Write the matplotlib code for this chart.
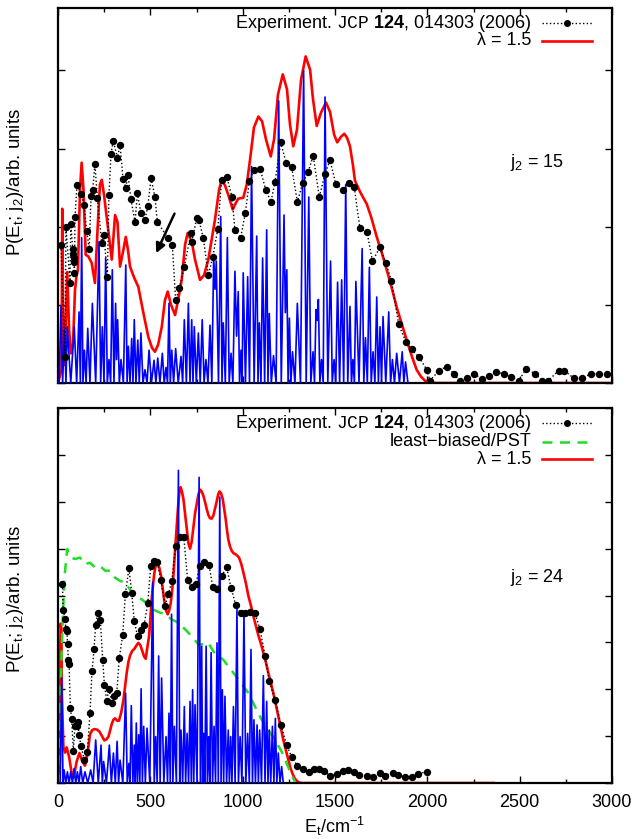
import numpy as np
import matplotlib
matplotlib.use('Agg')
import matplotlib.pyplot as plt
from matplotlib.ticker import MultipleLocator, NullFormatter

plt.rcParams['font.family'] = ['Liberation Sans', 'DejaVu Sans']
plt.rcParams['mathtext.fontset'] = 'custom'
plt.rcParams['mathtext.rm'] = 'Liberation Sans'
plt.rcParams['mathtext.it'] = 'Liberation Sans:italic'
plt.rcParams['mathtext.bf'] = 'Liberation Sans:bold'
plt.rcParams['mathtext.tt'] = 'Liberation Mono'

# ---------------- j2 = 15 (top panel) ----------------
top_exp_x = [16, 38, 43, 65, 69, 80, 82, 84, 86, 89, 92, 103, 125, 141, 155, 169, 179, 188, 200, 213,
             237, 249, 267, 276, 287, 299, 322, 336, 352, 367, 379, 395, 417, 430, 449, 471, 486, 504, 525, 538,
             597, 619, 637, 657, 684, 720, 724, 751, 764, 787, 814, 838, 865, 886, 914, 942, 958, 989, 1014, 1036,
             1062, 1095, 1125, 1153, 1175, 1206, 1235, 1265, 1296, 1325, 1355, 1382, 1415, 1446, 1473, 1504, 1543, 1576, 1604, 1635,
             1673, 1703, 1744, 1775, 1805, 1845, 1883, 1915, 1955, 1997, 2014, 2064, 2105, 2144, 2177, 2213, 2253, 2294, 2334, 2372,
             2413, 2453, 2495, 2535, 2583, 2623, 2655, 2711, 2742, 2793, 2839, 2885, 2928, 2971]
top_exp_y = [1.76, 0.33, 2.00, 1.28, 2.04, 1.71, 1.65, 1.60, 1.55, 1.41, 2.13, 2.54, 2.42, 2.28, 1.95, 1.72, 2.39, 2.47, 2.80, 2.37,
             1.79, 1.89, 1.36, 2.41, 2.93, 3.10, 2.88, 3.05, 2.61, 2.50, 2.66, 2.35, 2.06, 2.43, 2.17, 2.09, 2.26, 2.62, 2.38, 2.06,
             1.85, 1.77, 1.06, 1.21, 1.49, 1.92, 1.80, 2.11, 2.08, 1.85, 1.38, 1.61, 1.97, 2.60, 2.64, 2.38, 1.96, 1.86, 2.17, 2.58,
             2.73, 2.74, 2.47, 2.32, 2.57, 3.08, 2.82, 2.77, 2.32, 2.56, 2.70, 2.91, 2.38, 2.68, 2.85, 2.55, 2.47, 2.56, 2.51, 1.98,
             1.93, 1.56, 1.74, 1.54, 1.31, 0.75, 0.53, 0.43, 0.33, 0.17, 0.03, 0.16, 0.21, 0.12, 0.02, 0.06, 0.12, 0.05, 0.09, 0.14,
             0.12, 0.08, 0.03, 0.18, 0.12, 0.03, 0.03, 0.16, 0.16, 0.06, 0.06, 0.12, 0.11, 0.11]

top_red_x = [0, 19, 23, 29, 35, 50, 60, 70, 81, 92, 100, 108, 119, 128, 138, 150, 164, 182, 200, 214,
             227, 237, 249, 272, 291, 309, 322, 336, 352, 367, 379, 390, 412, 435, 462, 489, 509, 525, 542, 562,
             579, 594, 612, 634, 650, 670, 688, 702, 724, 742, 769, 791, 814, 850, 872, 886, 904, 922, 946, 964,
             976, 1003, 1022, 1040, 1061, 1085, 1105, 1126, 1152, 1170, 1191, 1217, 1240, 1256, 1274, 1294, 1316, 1341, 1365, 1381,
             1401, 1424, 1451, 1473, 1495, 1512, 1532, 1550, 1565, 1581, 1597, 1608, 1635, 1672, 1695, 1726, 1753, 1780, 1807, 1834,
             1861, 1888, 1915, 1942, 1966, 1987, 2014, 2041, 3000]
top_red_y = [0.0, 0.17, 2.23, 0.42, 0.23, 1.42, 0.68, 0.38, 0.49, 1.19, 1.37, 1.45, 2.47, 2.82, 2.47, 1.64, 1.62, 1.54, 1.28, 1.96,
             2.54, 2.60, 2.41, 1.96, 1.58, 2.15, 2.06, 1.49, 1.68, 1.87, 1.70, 1.49, 1.35, 1.23, 0.90, 0.59, 0.45, 0.40, 0.49, 0.72,
             1.06, 1.17, 1.00, 0.87, 1.06, 1.32, 1.77, 1.92, 1.81, 1.58, 1.32, 1.38, 1.58, 2.09, 2.47, 2.60, 2.53, 2.41, 2.22, 2.31,
             2.36, 2.37, 2.54, 2.86, 3.27, 3.41, 3.35, 3.12, 2.90, 3.12, 3.69, 3.95, 3.76, 3.31, 3.03, 3.24, 3.88, 4.18, 4.01, 3.63,
             3.29, 3.46, 3.59, 3.47, 3.18, 3.08, 3.15, 3.19, 3.14, 3.03, 2.79, 2.59, 2.45, 2.29, 2.13, 1.87, 1.67, 1.45, 1.22, 0.97,
             0.76, 0.55, 0.35, 0.17, 0.08, 0.03, 0.01, 0.0, 0.0]

top_blue_peak_x = [16, 35, 50, 88, 114, 128, 143, 161, 186, 222, 240, 258, 276, 294, 312, 323, 341, 367, 381, 399,
                   413, 432, 449, 471, 493, 520, 540, 565, 585, 601, 616, 637, 666, 684, 706, 724, 738, 760, 781, 801,
                   823, 843, 857, 881, 895, 917, 937, 958, 976, 991, 1003, 1027, 1048, 1076, 1090, 1108, 1130, 1144, 1167, 1195,
                   1224, 1239, 1253, 1270, 1296, 1330, 1358, 1381, 1397, 1410, 1427, 1446, 1476, 1495, 1514, 1536, 1558, 1581, 1597, 1613,
                   1647, 1665, 1686, 1706, 1726, 1744, 1760, 1791, 1811, 1834, 1864, 1882]
top_blue_peak_y = [0.98, 0.68, 0.72, 0.72, 0.91, 1.86, 0.42, 0.70, 1.02, 1.81, 0.72, 1.60, 0.30, 1.45, 1.02, 0.81, 0.30, 1.51, 0.47, 0.57,
                   0.81, 0.55, 0.64, 0.17, 0.42, 0.29, 0.32, 0.38, 0.20, 1.02, 0.42, 0.44, 0.34, 0.81, 1.02, 0.81, 0.72, 0.64, 0.81, 0.30,
                   0.74, 1.62, 1.56, 2.13, 0.77, 1.86, 0.38, 1.43, 1.17, 0.42, 1.41, 1.36, 2.77, 1.88, 0.77, 1.60, 1.96, 0.89, 0.35, 3.61,
                   2.15, 1.45, 0.83, 0.40, 1.02, 4.00, 2.38, 0.40, 0.94, 1.07, 0.30, 3.66, 1.56, 0.30, 1.29, 1.32, 2.54, 0.98, 0.30, 1.30,
                   1.72, 0.58, 1.48, 0.40, 1.10, 0.72, 0.85, 0.91, 0.30, 0.38, 0.40, 0.27]
top_blue_dip_x = [6, 25, 43, 69, 101, 121, 135, 152, 173, 204, 231, 249, 267, 285, 303, 317, 332, 354, 374, 390,
                  406, 422, 440, 460, 482, 506, 530, 552, 575, 593, 608, 626, 651, 675, 695, 715, 731, 749, 770, 791,
                  812, 833, 850, 869, 888, 906, 927, 947, 967, 983, 997, 1015, 1037, 1062, 1083, 1099, 1119, 1137, 1155, 1181,
                  1209, 1231, 1246, 1261, 1283, 1313, 1344, 1369, 1389, 1403, 1418, 1436, 1461, 1485, 1504, 1525, 1547, 1569, 1589, 1605,
                  1630, 1656, 1675, 1696, 1716, 1735, 1752, 1775, 1801, 1822, 1849, 1873, 1895]
top_blue_dip_y = [0.0, 0.0, 0.0, 0.0, 0.0, 0.0, 0.0, 0.0, 0.0, 0.0, 0.0, 0.0, 0.0, 0.0, 0.0, 0.3, 0.0, 0.0, 0.0, 0.0,
                  0.0, 0.0, 0.0, 0.0, 0.0, 0.0, 0.0, 0.0, 0.0, 0.0, 0.0, 0.0, 0.0, 0.0, 0.0, 0.0, 0.0, 0.0, 0.0, 0.0,
                  0.0, 0.0, 1.2, 0.0, 0.0, 0.0, 0.0, 0.0, 0.6, 0.0, 0.0, 0.0, 0.0, 0.0, 0.0, 0.0, 0.0, 0.0, 0.0, 0.0,
                  0.0, 0.9, 0.0, 0.0, 0.0, 0.0, 0.0, 0.0, 0.0, 0.8, 0.0, 0.0, 0.0, 0.0, 0.0, 0.0, 0.0, 0.0, 0.0, 0.0,
                  0.0, 0.0, 0.0, 0.0, 0.0, 0.0, 0.0, 0.0, 0.0, 0.0, 0.0, 0.0, 0.0]

# ---------------- j2 = 24 (bottom panel) ----------------
bot_exp_x = [24, 28, 38, 43, 48, 52, 56, 60, 67, 74, 83, 92, 101, 106, 114, 125, 143, 159, 173, 184,
             195, 204, 215, 229, 242, 251, 264, 276, 291, 305, 318, 332, 350, 365, 384, 399, 413, 431, 449, 466,
             486, 502, 520, 538, 556, 580, 598, 616, 637, 661, 681, 702, 724, 746, 769, 791, 818, 838, 863, 886,
             913, 937, 962, 989, 1013, 1040, 1067, 1094, 1121, 1144, 1175, 1208, 1238, 1265, 1296, 1325, 1357, 1385, 1412, 1440,
             1473, 1512, 1542, 1572, 1603, 1632, 1672, 1704, 1744, 1771, 1812, 1843, 1879, 1915, 1951, 1997]
bot_exp_y = [4.24, 3.70, 3.49, 3.28, 3.24, 2.97, 2.63, 2.54, 1.60, 1.36, 0.69, 1.21, 1.21, 1.31, 1.03, 0.78, 0.49, 0.67, 1.49, 2.38,
             2.85, 3.38, 3.63, 3.48, 2.63, 2.10, 1.76, 2.01, 1.71, 1.86, 1.92, 2.67, 3.15, 4.04, 4.58, 4.06, 3.45, 3.13, 3.26, 3.37,
             3.83, 4.63, 4.73, 4.72, 4.33, 3.78, 4.03, 4.30, 5.05, 5.25, 5.25, 4.33, 4.18, 4.25, 4.63, 4.72, 4.65, 4.18, 4.13, 4.42,
             4.60, 4.17, 3.80, 3.63, 3.63, 3.65, 3.62, 3.28, 2.72, 2.17, 1.78, 1.24, 0.81, 0.56, 0.37, 0.30, 0.24, 0.29, 0.31, 0.26,
             0.15, 0.19, 0.25, 0.28, 0.24, 0.17, 0.15, 0.12, 0.22, 0.16, 0.22, 0.17, 0.13, 0.13, 0.20, 0.24]

bot_green_x = [0, 10, 23, 35, 50, 60, 75, 92, 119, 146, 173, 200, 227, 255, 282, 309, 336, 363, 390, 417,
               453, 489, 516, 543, 580, 616, 652, 688, 724, 760, 787, 814, 841, 868, 895, 922, 950, 977, 1004, 1031,
               1067, 1103, 1139, 1175, 1211, 1238, 1265, 1283]
bot_green_y = [0.0, 1.5, 3.20, 4.40, 4.99, 4.88, 4.80, 4.78, 4.81, 4.67, 4.70, 4.60, 4.63, 4.53, 4.53, 4.38, 4.31, 4.28, 4.13, 3.99,
               3.92, 3.81, 3.70, 3.65, 3.60, 3.49, 3.42, 3.28, 3.13, 2.96, 2.96, 2.99, 2.81, 2.71, 2.63, 2.49, 2.35, 2.21, 2.06, 1.92,
               1.63, 1.35, 1.13, 0.92, 0.67, 0.42, 0.17, 0.03]

bot_red_x = [3, 10, 14, 18, 21, 29, 38, 47, 60, 74, 85, 101, 116, 132, 146, 159, 173, 185, 197, 211,
             224, 238, 251, 262, 273, 282, 291, 300, 309, 320, 330, 342, 354, 363, 372, 381, 390, 402, 413, 424,
             435, 446, 457, 466, 475, 484, 493, 500, 507, 515, 522, 530, 538, 548, 558, 567, 576, 585, 594, 602,
             610, 618, 625, 631, 637, 645, 652, 658, 664, 671, 679, 688, 697, 706, 715, 724, 733, 742, 751, 760,
             769, 778, 787, 796, 805, 814, 823, 832, 841, 850, 859, 867, 874, 883, 892, 900, 908, 915, 922, 931,
             941, 951, 962, 971, 980, 992, 1004, 1018, 1031, 1045, 1058, 1072, 1085, 1099, 1112, 1126, 1139, 1153, 1166, 1180,
             1193, 1207, 1220, 1234, 1247, 1258, 1269, 1280, 1292, 1306, 1320, 2360]
bot_red_y = [0.2, 2.0, 3.4, 3.3, 1.9, 0.78, 0.65, 0.76, 0.56, 0.21, 0.12, 0.46, 0.64, 0.46, 0.37, 0.60, 1.03, 1.13, 1.15, 1.14,
             1.10, 1.00, 0.91, 0.93, 0.99, 1.12, 1.26, 1.35, 1.38, 1.33, 1.33, 1.50, 1.76, 2.05, 2.35, 2.58, 2.72, 2.82, 2.86, 2.93,
             2.99, 2.94, 2.81, 2.70, 2.65, 2.90, 3.13, 3.50, 3.92, 4.25, 4.49, 4.65, 4.70, 4.60, 4.42, 4.15, 3.88, 3.68, 3.60, 3.68,
             3.83, 4.10, 4.42, 4.80, 5.13, 5.60, 5.99, 6.22, 6.31, 6.22, 6.06, 5.75, 5.42, 5.12, 5.00, 5.15, 5.45, 5.75, 5.95, 6.15,
             6.26, 6.22, 6.13, 6.00, 5.85, 5.72, 5.65, 5.64, 5.70, 5.85, 6.00, 6.15, 6.22, 6.18, 6.06, 5.85, 5.63, 5.40, 5.20, 5.05,
             4.95, 4.90, 4.88, 4.85, 4.81, 4.68, 4.49, 4.25, 3.99, 3.78, 3.56, 3.35, 3.15, 2.97, 2.78, 2.57, 2.35, 2.13, 1.92, 1.67,
             1.42, 1.17, 0.92, 0.70, 0.49, 0.33, 0.21, 0.11, 0.05, 0.01, 0.0, 0.0]

bot_blue_peak_x = [20, 33, 51, 69, 87, 105, 123, 146, 177, 204, 233, 247, 278, 300, 320, 336, 366, 384, 397, 413,
                   424, 437, 450, 464, 482, 513, 529, 545, 561, 585, 601, 615, 630, 652, 666, 684, 699, 715, 729, 742,
                   764, 778, 789, 802, 816, 829, 845, 861, 876, 890, 904, 922, 935, 950, 969, 986, 1007, 1027, 1045, 1061,
                   1078, 1092, 1112, 1130, 1144, 1161, 1177, 1193, 1211]
bot_blue_peak_y = [2.24, 0.28, 0.24, 0.24, 0.31, 0.24, 0.35, 0.24, 0.28, 0.92, 0.81, 0.46, 0.81, 0.64, 0.89, 0.49, 1.92, 0.42, 1.65, 0.81,
                   1.28, 1.03, 2.01, 1.21, 1.17, 4.28, 0.99, 2.71, 2.24, 0.99, 1.49, 3.60, 1.21, 6.67, 1.13, 1.63, 1.06, 1.74, 1.99, 1.67,
                   6.52, 2.92, 1.06, 2.92, 0.99, 2.78, 1.21, 2.99, 6.10, 1.99, 1.85, 1.13, 0.99, 1.63, 3.70, 0.99, 3.62, 1.06, 2.85, 1.35,
                   1.24, 1.13, 2.29, 1.74, 1.13, 1.21, 1.38, 0.64, 0.35]
bot_blue_dip_x = [12, 27, 42, 60, 78, 96, 114, 134, 161, 190, 218, 240, 262, 289, 310, 328, 351, 375, 390, 405,
                  418, 430, 443, 457, 473, 497, 521, 537, 553, 573, 593, 608, 622, 641, 659, 675, 691, 707, 722, 735,
                  753, 771, 783, 795, 809, 822, 837, 853, 868, 883, 897, 913, 928, 942, 959, 977, 996, 1017, 1036, 1053,
                  1069, 1085, 1102, 1121, 1137, 1152, 1169, 1185, 1202, 1220]
bot_blue_dip_y = [0.0] * 70

exp_legend = r"Experiment. $\mathtt{JCP}$ $\mathbf{124}$, 014303 (2006)"

fig = plt.figure(figsize=(6.34, 8.39), dpi=100)
ax_top = fig.add_axes([0.0915, 0.5435, 0.8738, 0.447])
ax_bot = fig.add_axes([0.0915, 0.0667, 0.8738, 0.447])

RED = '#ff0000'
BLUE = '#0000ff'
GREEN = '#22dd22'
FS = 13


def stick_line(px, py, dx, dy):
    xs = np.concatenate([px, dx])
    ys = np.concatenate([py, dy])
    order = np.argsort(xs, kind='stable')
    return xs[order], ys[order]


def legend_row(ax, y, label, **kw):
    ax.text(0.855, y, label, transform=ax.transAxes, ha='right', va='center', fontsize=FS)
    ax.plot([0.873, 0.963], [y, y], transform=ax.transAxes, clip_on=False, **kw)


def style_axes(ax, ymax, show_xlabels, label_y):
    ax.set_xlim(0, 3000)
    ax.set_ylim(0, ymax)
    ax.xaxis.set_major_locator(MultipleLocator(500))
    ax.xaxis.set_minor_locator(MultipleLocator(250))
    ax.yaxis.set_major_locator(MultipleLocator(1))
    ax.yaxis.set_major_formatter(NullFormatter())
    ax.tick_params(which='both', direction='in', top=True, right=True, width=1.0)
    ax.tick_params(which='major', length=5, labelsize=FS, pad=8)
    ax.tick_params(which='minor', length=3)
    if not show_xlabels:
        ax.xaxis.set_major_formatter(NullFormatter())
    for s in ax.spines.values():
        s.set_linewidth(1.6)
    ax.set_ylabel(r"P(E$_\mathrm{t}$; j$_2$)/arb. units", fontsize=13.5)
    ax.yaxis.set_label_coords(-0.058, label_y)


# top panel
bx, by = stick_line(top_blue_peak_x, top_blue_peak_y, top_blue_dip_x, top_blue_dip_y)
ax_top.plot(top_red_x, top_red_y, color=RED, lw=1.9, zorder=2)
ax_top.plot(bx, by, color=BLUE, lw=1.2, zorder=3)
ax_top.plot(top_exp_x, top_exp_y, color='black', ls=':', lw=1.0, marker='o', ms=4.3, zorder=4)
ax_top.annotate('', xy=(525, 1.63), xytext=(637, 2.20),
                arrowprops=dict(arrowstyle='-|>', color='black', lw=1.8, mutation_scale=14))
style_axes(ax_top, 4.8, False, 0.535)
legend_row(ax_top, 0.959, exp_legend, color='black', ls=':', lw=1.0)
ax_top.plot([0.918], [0.959], transform=ax_top.transAxes, marker='o', ms=4, color='black', clip_on=False)
legend_row(ax_top, 0.913, "λ = 1.5", color=RED, lw=1.9)
ax_top.text(0.816, 0.587, r"j$_2$ = 15", transform=ax_top.transAxes, fontsize=FS, va='center')

# bottom panel
bx, by = stick_line(bot_blue_peak_x, bot_blue_peak_y, bot_blue_dip_x, bot_blue_dip_y)
ax_bot.plot(bot_red_x, bot_red_y, color=RED, lw=1.9, zorder=2)
ax_bot.plot(bot_green_x, bot_green_y, color=GREEN, ls=(0, (4, 3)), lw=1.8, zorder=2)
ax_bot.plot(bx, by, color=BLUE, lw=1.2, zorder=3)
ax_bot.plot(bot_exp_x, bot_exp_y, color='black', ls=':', lw=1.0, marker='o', ms=4.3, zorder=4)
style_axes(ax_bot, 8.0, True, 0.49)
ax_bot.set_xlabel(r"E$_\mathrm{t}$/cm$^{-1}$", fontsize=FS, labelpad=3)
legend_row(ax_bot, 0.959, exp_legend, color='black', ls=':', lw=1.0)
ax_bot.plot([0.918], [0.959], transform=ax_bot.transAxes, marker='o', ms=4, color='black', clip_on=False)
legend_row(ax_bot, 0.910, "least\u2212biased/PST", color=GREEN, ls=(0, (4, 3)), lw=1.8)
legend_row(ax_bot, 0.863, "λ = 1.5", color=RED, lw=1.9)
ax_bot.text(0.816, 0.549, r"j$_2$ = 24", transform=ax_bot.transAxes, fontsize=FS, va='center')

fig.savefig('out.png', dpi=100)
